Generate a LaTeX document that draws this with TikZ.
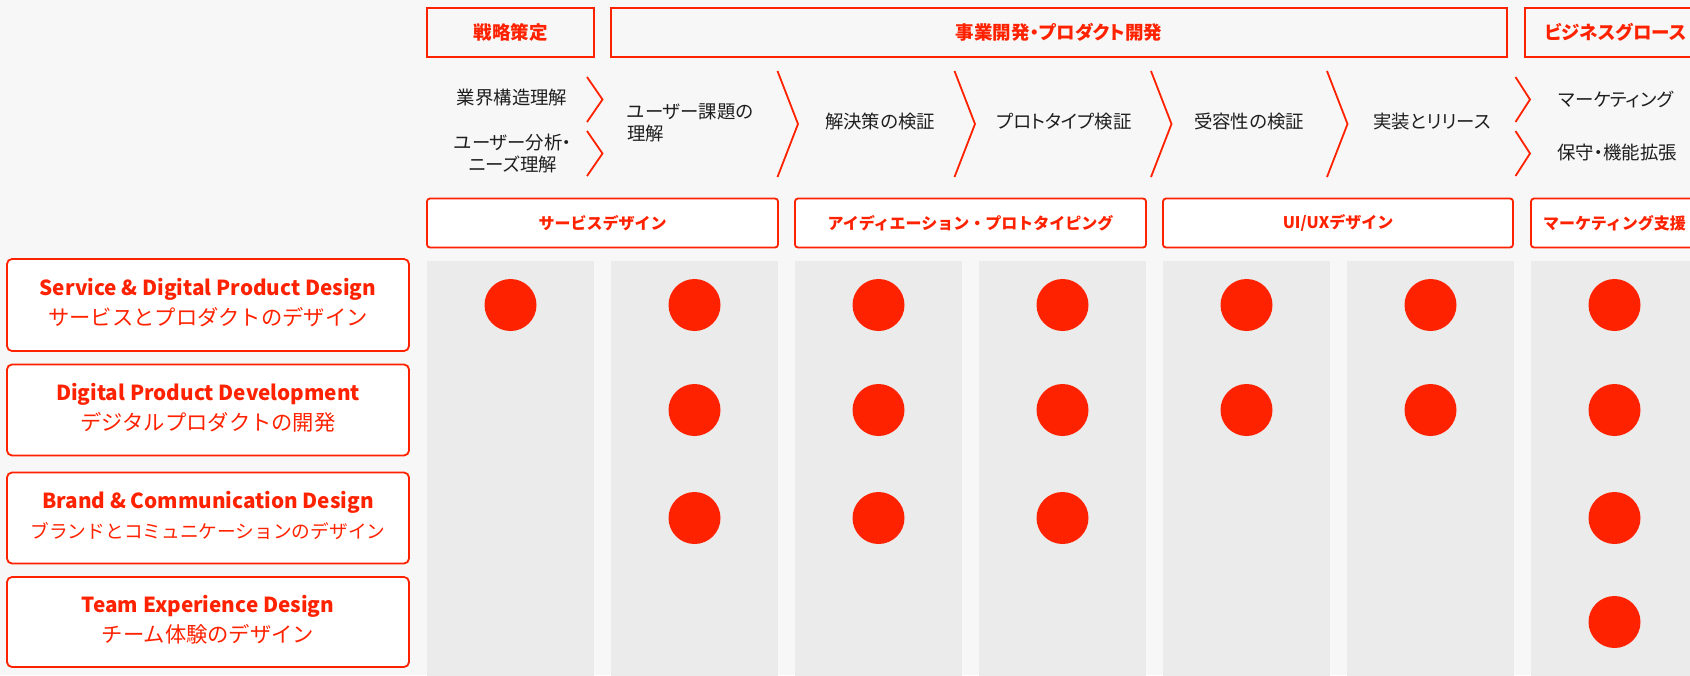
\documentclass[tikz,border=0pt]{standalone}
\usepackage{fontspec}
\setmainfont{Noto Sans CJK JP}
\newfontfamily\paltfont{Noto Sans CJK JP}[RawFeature=+palt]
\definecolor{accent}{RGB}{255,34,0}
\definecolor{bgc}{RGB}{247,247,247}
\definecolor{colc}{RGB}{235,235,235}
\definecolor{ink}{RGB}{30,30,30}
\tikzset{
  hdr/.style={draw=accent, line width=1.8pt, fill=bgc, inner sep=0pt, minimum height=49pt,
    text=accent, font=\paltfont\bfseries\fontsize{18.5}{21}\selectfont},
  subbox/.style={draw=accent, line width=1.8pt, fill=white, rounded corners=3pt, inner sep=0pt,
    minimum height=49pt, text=accent, font=\bfseries\fontsize{16}{19}\selectfont},
  lblbox/.style={draw=accent, line width=1.8pt, fill=white, rounded corners=5pt, inner sep=0pt,
    minimum width=402pt},
  en/.style={anchor=base, inner sep=0pt, text=accent, font=\bfseries\fontsize{20.7}{25}\selectfont},
  ja/.style={anchor=base, inner sep=0pt, text=accent, font=\fontsize{21.3}{25}\selectfont},
  steplbl/.style={inner sep=0pt, text=ink, font=\paltfont\fontsize{18.4}{22}\selectfont},
  chev/.style={draw=accent, line width=1.8pt, line join=miter},
  dot/.style={circle, fill=accent, minimum size=52pt, inner sep=0pt},
  colbg/.style={fill=colc},
}
\begin{document}
\begin{tikzpicture}[x=1pt,y=-1pt]
\useasboundingbox (0,0) rectangle (1690,675);
\clip (0,0) rectangle (1690,675);
\fill[bgc] (0,0) rectangle (1690,675);

% gray columns
\foreach \i in {0,...,6} {
  \fill[colbg] ({427+184*\i},261) rectangle +(167,430);
}

% top phase headers
\node[hdr, minimum width=167pt] (h1) at (510.5,32.5) {戦略策定};
\node[hdr, minimum width=896pt] (h2) at (1059,32.5) {事業開発・プロダクト開発};
\node[hdr, minimum width=181pt] (h3) at (1615.5,32.5) {ビジネスグロース};

% step labels
\node[steplbl] (t1) at (512,98) {業界構造理解};
\node[steplbl, align=center] (t2) at (513,154) {ユーザー分析・\\ニーズ理解};
\node[steplbl, align=left, anchor=west] (t3) at (627,123) {ユーザー課題の\\理解};
\node[steplbl] (t4) at (880,122) {解決策の検証};
\node[steplbl] (t5) at (1064,122) {プロトタイプ検証};
\node[steplbl] (t6) at (1249,122) {受容性の検証};
\node[steplbl] (t7) at (1432,122) {実装とリリース};
\node[steplbl] (t8) at (1616,99) {マーケティング};
\node[steplbl] (t9) at (1617,153) {保守・機能拡張};

% chevrons
\draw[chev] (587,77) -- (602.5,99.5) -- (587,122);
\draw[chev] (587,131) -- (602.5,153.5) -- (587,176);
\foreach \x in {777.5,954.5,1151,1327} {
  \draw[chev] (\x,71) -- ({\x+20.5},124) -- (\x,177);
}
\draw[chev] (1515.5,77) -- (1530,99.5) -- (1515.5,122);
\draw[chev] (1515.5,131) -- (1530,153.5) -- (1515.5,176);

% sub headers
\node[subbox, minimum width=351pt] (s1) at (602.5,223) {サービスデザイン};
\node[subbox, minimum width=351pt] (s2) at (970.5,223) {アイディエーション・プロトタイピング};
\node[subbox, minimum width=350pt] (s3) at (1338,223) {UI/UXデザイン};
\node[subbox, minimum width=167pt] (s4) at (1614.5,223) {マーケティング支援};

% row labels
\node[lblbox, minimum height=92pt] (l1) at (208,305) {};
\node[en] (l1en) at ([yshift=9.3pt]l1.center) {Service \& Digital Product Design};
\node[ja] (l1ja) at ([yshift=-20.5pt]l1.center) {サービスとプロダクトのデザイン};

\node[lblbox, minimum height=91pt] (l2) at (208,410) {};
\node[en] (l2en) at ([yshift=9.3pt]l2.center) {Digital Product Development};
\node[ja] (l2ja) at ([yshift=-20.5pt]l2.center) {デジタルプロダクトの開発};

\node[lblbox, minimum height=91pt] (l3) at (208,518) {};
\node[en] (l3en) at ([yshift=9.3pt]l3.center) {Brand \& Communication Design};
\node[ja, font=\fontsize{18.7}{22}\selectfont] (l3ja) at ([yshift=-20pt]l3.center) {ブランドとコミュニケーションのデザイン};

\node[lblbox, minimum height=90pt] (l4) at (208,622) {};
\node[en] (l4en) at ([yshift=9.3pt]l4.center) {Team Experience Design};
\node[ja] (l4ja) at ([yshift=-20.5pt]l4.center) {チーム体験のデザイン};

% dots
\foreach \c/\x in {1/510.5,2/694.5,3/878.5,4/1062.5,5/1246.5,6/1430.5,7/1614.5} {
  \node[dot] (a\c) at (\x,305) {};
}
\foreach \c/\x in {2/694.5,3/878.5,4/1062.5,5/1246.5,6/1430.5,7/1614.5} {
  \node[dot] (b\c) at (\x,410) {};
}
\foreach \c/\x in {2/694.5,3/878.5,4/1062.5,7/1614.5} {
  \node[dot] (c\c) at (\x,518) {};
}
\node[dot] (d7) at (1614.5,622) {};
\end{tikzpicture}
\end{document}
